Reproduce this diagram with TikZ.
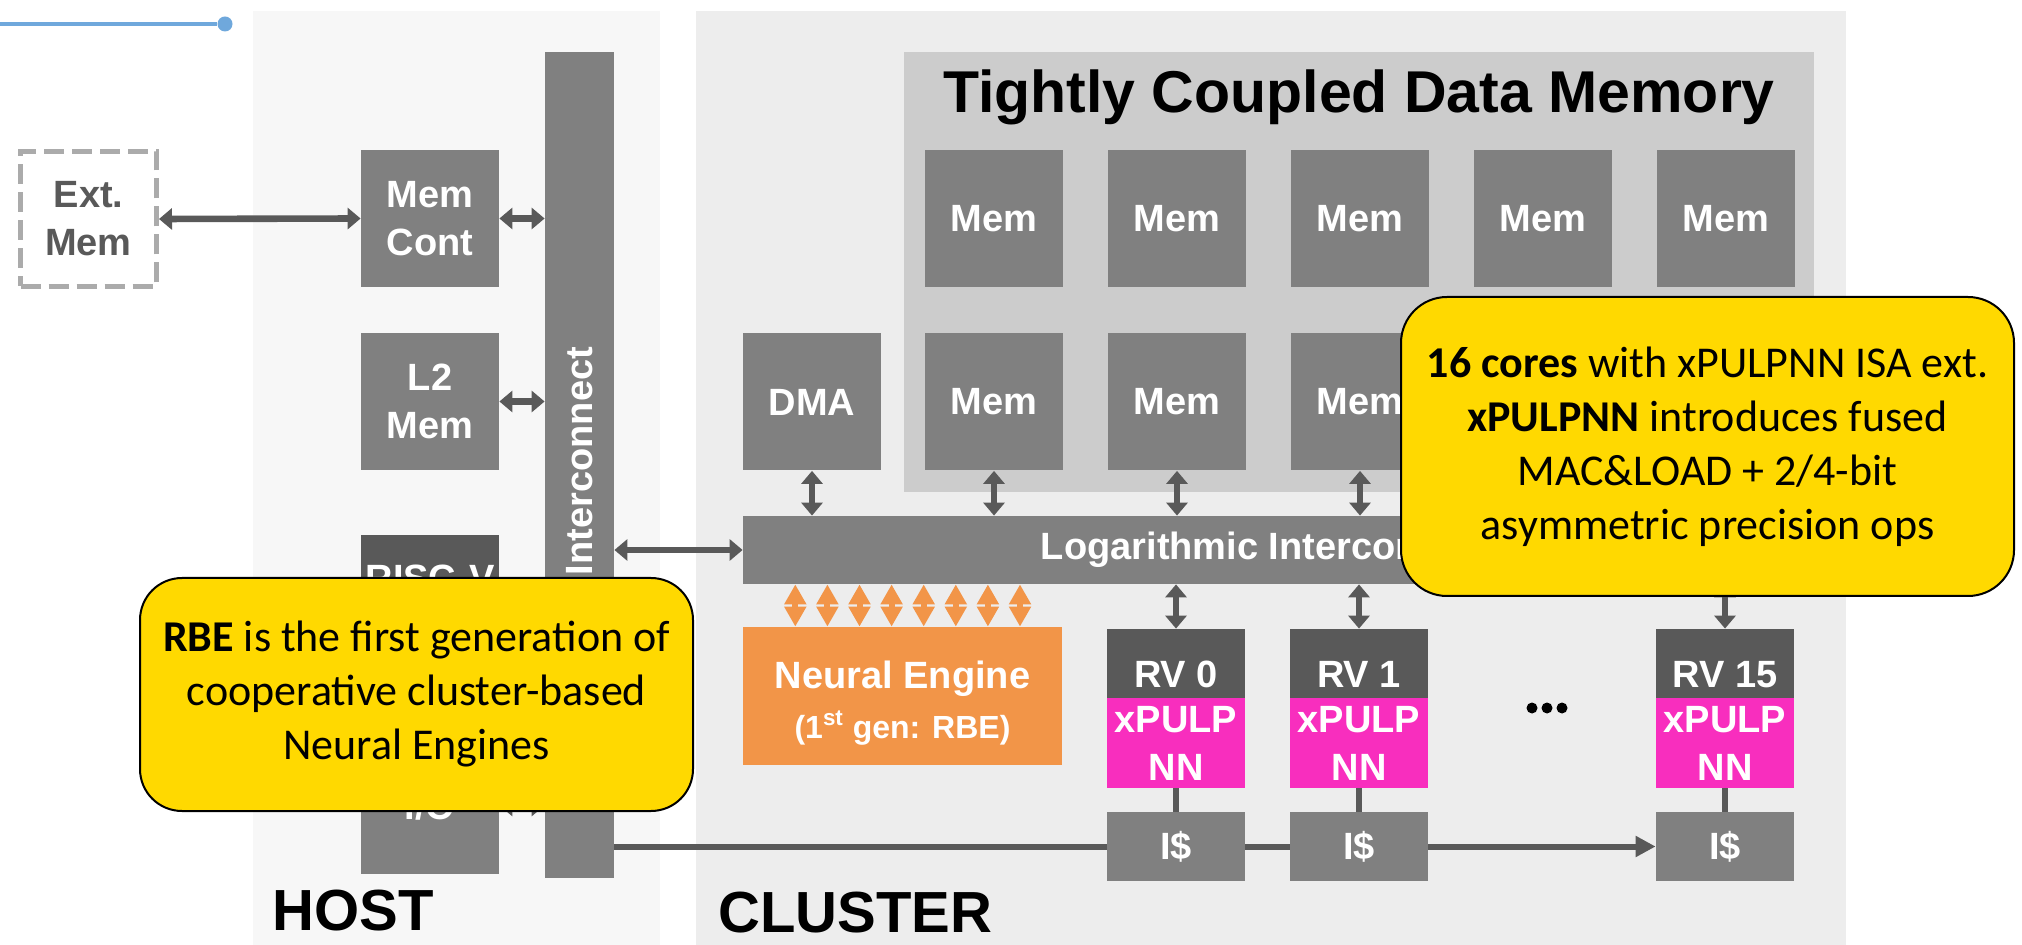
\documentclass[tikz,border=0pt]{standalone}
\usepackage{fontspec}
\setmainfont{Liberation Sans}
\newfontfamily\notefont{Carlito}
\usetikzlibrary{arrows.meta,calc}

\definecolor{boxgray}{RGB}{128,128,128}
\definecolor{hdrgray}{RGB}{89,89,89}
\definecolor{tcdmgray}{RGB}{204,204,204}
\definecolor{clustergray}{RGB}{237,237,237}
\definecolor{hostgray}{RGB}{247,247,247}
\definecolor{extgray}{RGB}{171,171,171}
\definecolor{neorange}{RGB}{242,149,72}
\definecolor{pulpmag}{RGB}{248,46,190}
\definecolor{noteyellow}{RGB}{255,217,0}
\definecolor{lineblue}{RGB}{111,168,220}

\newcommand\blkfont{\bfseries\fontsize{19}{24}\selectfont}

\begin{document}
\begin{tikzpicture}[x=0.5pt,y=-0.5pt,
  box/.style={fill=boxgray, inner sep=0pt, minimum width=69pt, minimum height=68.5pt,
    text=white, font=\blkfont, align=center},
  boxtext/.style={font=\blkfont, text=white, inner sep=0pt},
  biarrow/.style={draw=hdrgray, line width=3.3pt,
    {Triangle[length=6.5pt,width=10.5pt]}-{Triangle[length=6.5pt,width=10.5pt]}},
  toarrow/.style={draw=hdrgray, line width=3pt, -{Triangle[length=10pt,width=10pt]}},
  wire/.style={draw=hdrgray, line width=3pt},
  orarrow/.style={draw=neorange, line width=3pt,
    {Triangle[length=10pt,width=10.5pt]}-{Triangle[length=10pt,width=10.5pt]}},
  note/.style={fill=noteyellow, draw=black, line width=1pt, rounded corners=21pt,
    inner sep=0pt, align=center, font=\notefont\fontsize{22}{27}\selectfont},
  region/.style={font=\bfseries\fontsize{29}{34}\selectfont, anchor=base west, inner sep=0pt}
]
% canvas and the two domains
\fill[white] (0,0) rectangle (2022,945);
\useasboundingbox (0,0) rectangle (2022,945);
\fill[hostgray] (253,11) rectangle (660,945);
\fill[clustergray] (696,11) rectangle (1846,945);

% blue rule at the top left
\node[circle, fill=lineblue, inner sep=0pt, minimum size=7.5pt] (bluedot) at (225,24) {};
\coordinate (bluestart) at (0,24);
\draw[lineblue, line width=2pt] (bluestart) -- (bluedot);

% ---------- host ----------
\node[draw=extgray, line width=2.5pt, dash pattern=on 10pt off 4pt, minimum width=68pt,
  minimum height=67.5pt, inner sep=0pt, text=hdrgray, font=\blkfont, align=center]
  (ext) at (88.5,219) {Ext.\\Mem};
\node[box] (mc) at (430,218.5) {Mem\\Cont};
\node[box] (l2) at (430,401.5) {L2\\Mem};
\node[box, fill=hdrgray] (riscv) at (430,603.5) {};
\node[boxtext] (riscvt) at (430,578) {RISC-V};
\node[box] (io) at (430,805.5) {};
\node[boxtext] (iot) at (430,806) {I/O};
\node[box, minimum width=34.5pt, minimum height=413pt] (ic) at (579.5,465) {};
\node[boxtext, rotate=90] (ict) at (579.5,461) {Interconnect};

% ---------- cluster ----------
\node[fill=tcdmgray, minimum width=455pt, minimum height=220pt, inner sep=0pt] (tcdm) at (1359,272) {};
\node[anchor=base, inner sep=0pt, font=\bfseries\fontsize{29.5}{35}\selectfont] (tcdmt) at (1359,113)
  {Tightly Coupled Data Memory};
\foreach \n/\x in {a/994,b/1177,c/1360,d/1543,e/1726} {
  \node[box] (m1\n) at (\x,218.5) {Mem};
  \node[box] (m2\n) at (\x,402) {Mem};
}
\node[box] (dma) at (812,402) {DMA};
\node[box, minimum width=526pt, minimum height=34pt] (log) at (1269,550) {Logarithmic Interconnect};
\node[box, fill=neorange, minimum width=159.5pt, minimum height=69pt] (ne) at (902.5,696) {};
\node[boxtext, align=center] (net) at (902.5,703)
  {Neural Engine\\[1pt]{\fontsize{16}{20}\selectfont(1\textsuperscript{st} gen: RBE)}};

\foreach \k/\x/\lab in {0/1176/RV 0,1/1359/RV 1,15/1725/RV 15} {
  \node[box, fill=hdrgray, minimum height=34.5pt] (rvh\k) at (\x,663.5) {};
  \node[boxtext] (rvt\k) at ($(rvh\k.center)+(0,11)$) {\lab};
  \node[box, fill=pulpmag, minimum height=45pt] (rvx\k) at (\x,743) {xPULP\\NN};
  \node[box, minimum height=34.5pt] (is\k) at (\x,846.5) {I\$};
  \draw[wire] (rvx\k.south) -- (is\k.north);
}
\foreach \x in {1532,1547,1562} \fill (\x,708) circle (5.5);

% ---------- connections ----------
\draw[biarrow] (ext.east) -- (mc.west);
\foreach \n in {mc,l2,riscv,io} \draw[biarrow] (\n.east) -- (\n.east -| ic.west);
\draw[biarrow] (ic.east |- log.west) -- (log.west);
\foreach \n in {dma,m2a,m2b,m2c,m2d,m2e} \draw[biarrow] (\n.south) -- (\n.south |- log.north);
\foreach \k in {0,1,15} \draw[biarrow] (rvh\k.north |- log.south) -- (rvh\k.north);
\foreach \i in {0,...,7} {
  \coordinate (ot\i) at ($(ne.north west)+(52.7+32.1*\i,0)$);
  \draw[orarrow] (ot\i |- log.south) -- (ot\i);
}
\draw[wire] (ic.east |- is0.west) -- (is0.west);
\draw[wire] (is0.east) -- (is1.west);
\draw[toarrow] (is1.east) -- (is15.west);

% domain labels
\node[region] (hostl) at (272,930) {HOST};
\node[region] (clusterl) at (718,932) {CLUSTER};

% notes
\node[note, minimum width=276.5pt, minimum height=116.5pt] (rbe) at (416.5,694.5)
  {\textbf{RBE} is the first generation of\\cooperative cluster-based\\Neural Engines};
\node[note, minimum width=306.5pt, minimum height=149.5pt, rounded corners=23pt] (cores) at (1707.5,446.5)
  {\textbf{16 cores} with xPULPNN ISA ext.\\\textbf{xPULPNN} introduces fused\\MAC\&LOAD + 2/4-bit\\asymmetric precision ops};
\end{tikzpicture}
\end{document}
